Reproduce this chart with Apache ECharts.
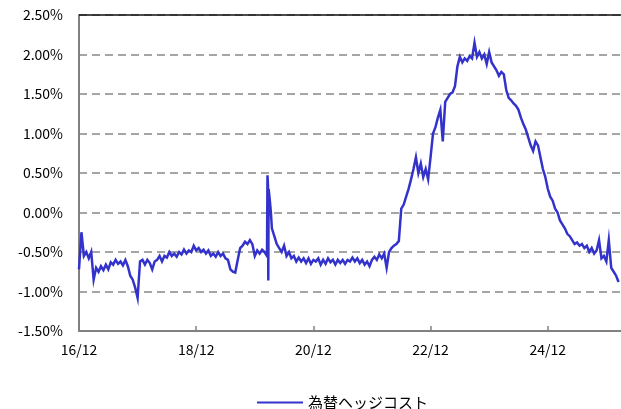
<!DOCTYPE html>
<html><head><meta charset="utf-8">
<script src="https://cdn.jsdelivr.net/npm/echarts@6/dist/echarts.min.js"></script>
<style>html,body{margin:0;padding:0;background:#fff}#c{width:621px;height:409px}</style>
</head><body><div id="c"></div>
<script>
// Semi-monthly readings (1st and 16th of each month), each array starts in December of the previous year
var y17 = [-0.72,-0.25,-0.55,-0.5,-0.58,-0.5,-0.85,-0.7,-0.75,-0.68,-0.73,-0.66,-0.72,-0.63,-0.66,-0.6,-0.65,-0.62,-0.67,-0.6,-0.68,-0.8,-0.85,-0.95];
var y18 = [-1.08,-0.62,-0.6,-0.66,-0.6,-0.64,-0.72,-0.62,-0.6,-0.55,-0.62,-0.55,-0.57,-0.5,-0.55,-0.52,-0.56,-0.5,-0.53,-0.47,-0.52,-0.48,-0.5,-0.42];
var y19 = [-0.48,-0.45,-0.5,-0.47,-0.52,-0.48,-0.55,-0.52,-0.56,-0.5,-0.55,-0.52,-0.58,-0.6,-0.72,-0.75,-0.76,-0.6,-0.45,-0.42,-0.37,-0.4,-0.35,-0.4];
var y20 = [-0.55,-0.48,-0.52,-0.47,-0.5,-0.55,0.2,-0.2,-0.3,-0.4,-0.45,-0.5,-0.42,-0.55,-0.5,-0.58,-0.55,-0.62,-0.57,-0.62,-0.58,-0.64,-0.58,-0.65];
var y21 = [-0.6,-0.62,-0.58,-0.66,-0.6,-0.65,-0.58,-0.63,-0.6,-0.66,-0.6,-0.64,-0.6,-0.65,-0.6,-0.62,-0.57,-0.62,-0.58,-0.64,-0.6,-0.66,-0.62,-0.68];
var y22 = [-0.6,-0.56,-0.6,-0.53,-0.58,-0.52,-0.7,-0.5,-0.45,-0.42,-0.4,-0.36,0.05,0.1,0.2,0.3,0.42,0.55,0.7,0.5,0.62,0.45,0.55,0.42];
var y23 = [0.7,1.0,1.08,1.2,1.3,0.9,1.4,1.45,1.5,1.52,1.6,1.85,1.97,1.9,1.95,1.92,1.98,1.95,2.15,1.97,2.03,1.95,2.0,1.88];
var y24 = [2.03,1.9,1.85,1.8,1.73,1.78,1.75,1.55,1.45,1.42,1.38,1.35,1.3,1.2,1.12,1.05,0.95,0.85,0.78,0.9,0.85,0.7,0.55,0.45];
var y25 = [0.3,0.2,0.15,0.05,0.0,-0.1,-0.15,-0.2,-0.27,-0.3,-0.35,-0.4,-0.38,-0.42,-0.4,-0.45,-0.42,-0.5,-0.45,-0.52,-0.48,-0.35,-0.58,-0.55];
var y26 = [-0.62,-0.35,-0.7,-0.75,-0.8,-0.88];
// Extra daily readings around the early-2020 spike
var spikeDates = ['2020-02-19','2020-02-22','2020-02-24','2020-02-26','2020-03-05','2020-03-10'];
var spikeValues = [0.47,0.35,-0.86,0.3,0.12,0.0];
var tickLabels = ['16/12','18/12','20/12','22/12','24/12'];

function monthsFrom(y, m, d) { return (y - 2016) * 12 + (m - 12) + (d - 1) / 30; }
var regular = [].concat(y17, y18, y19, y20, y21, y22, y23, y24, y25, y26);
var pts = [];
regular.forEach(function (v, k) {
  var mi = Math.floor(k / 2) + 11; // months since Jan 2016 (0-based): Dec 2016 = 11
  var yy = 2016 + Math.floor(mi / 12), mm = mi % 12 + 1, dd = (k % 2) ? 16 : 1;
  pts.push([monthsFrom(yy, mm, dd), v]);
});
spikeDates.forEach(function (s, i) {
  var p = s.split('-').map(Number);
  pts.push([monthsFrom(p[0], p[1], p[2]), spikeValues[i]]);
});
pts.sort(function (a, b) { return a[0] - b[0]; });

var font = 'Noto Sans CJK JP';
var chart = echarts.init(document.getElementById('c'), null, {renderer: 'canvas'});
chart.setOption({
  animation: false,
  textStyle: {fontFamily: font},
  grid: {left: 79, right: 0, top: 15, bottom: 78, containLabel: false},
  xAxis: {
    type: 'value', min: 0, max: 111, interval: 24,
    axisLine: {show: true, onZero: false, lineStyle: {color: '#808080', width: 2}},
    axisTick: {show: true, inside: true, length: 5, lineStyle: {color: '#808080', width: 1.5}},
    axisLabel: {color: '#000', fontSize: 14, fontFamily: font, margin: 12, showMaxLabel: false,
      formatter: function (v) { return (v % 24 === 0 && tickLabels[v / 24]) ? tickLabels[v / 24] : ''; }},
    splitLine: {show: false}
  },
  yAxis: {
    type: 'value', min: -1.5, max: 2.5, interval: 0.5,
    axisLine: {show: true, lineStyle: {color: '#808080', width: 2}},
    axisTick: {show: false},
    axisLabel: {color: '#000', fontSize: 14, fontFamily: font, margin: 16,
      formatter: function (v) { return v.toFixed(2) + '%'; }},
    splitLine: {show: true, lineStyle: {color: '#888', width: 1.5, type: [8, 5]}}
  },
  legend: {
    left: 252, top: 390, itemWidth: 46, itemHeight: 2, itemGap: 10,
    icon: 'rect',
    textStyle: {color: '#000', fontSize: 15, fontFamily: font},
    data: ['為替ヘッジコスト']
  },
  series: [{
    name: '為替ヘッジコスト', type: 'line', data: pts,
    symbol: 'none', showSymbol: false,
    lineStyle: {color: '#3333CC', width: 2.5, join: 'miter'},
    itemStyle: {color: '#3333CC'},
    markLine: {
      silent: true, symbol: 'none', animation: false,
      label: {show: false},
      lineStyle: {color: '#111', width: 1.5, type: 'solid'},
      data: [{yAxis: 2.5}]
    }
  }]
});
</script></body></html>
